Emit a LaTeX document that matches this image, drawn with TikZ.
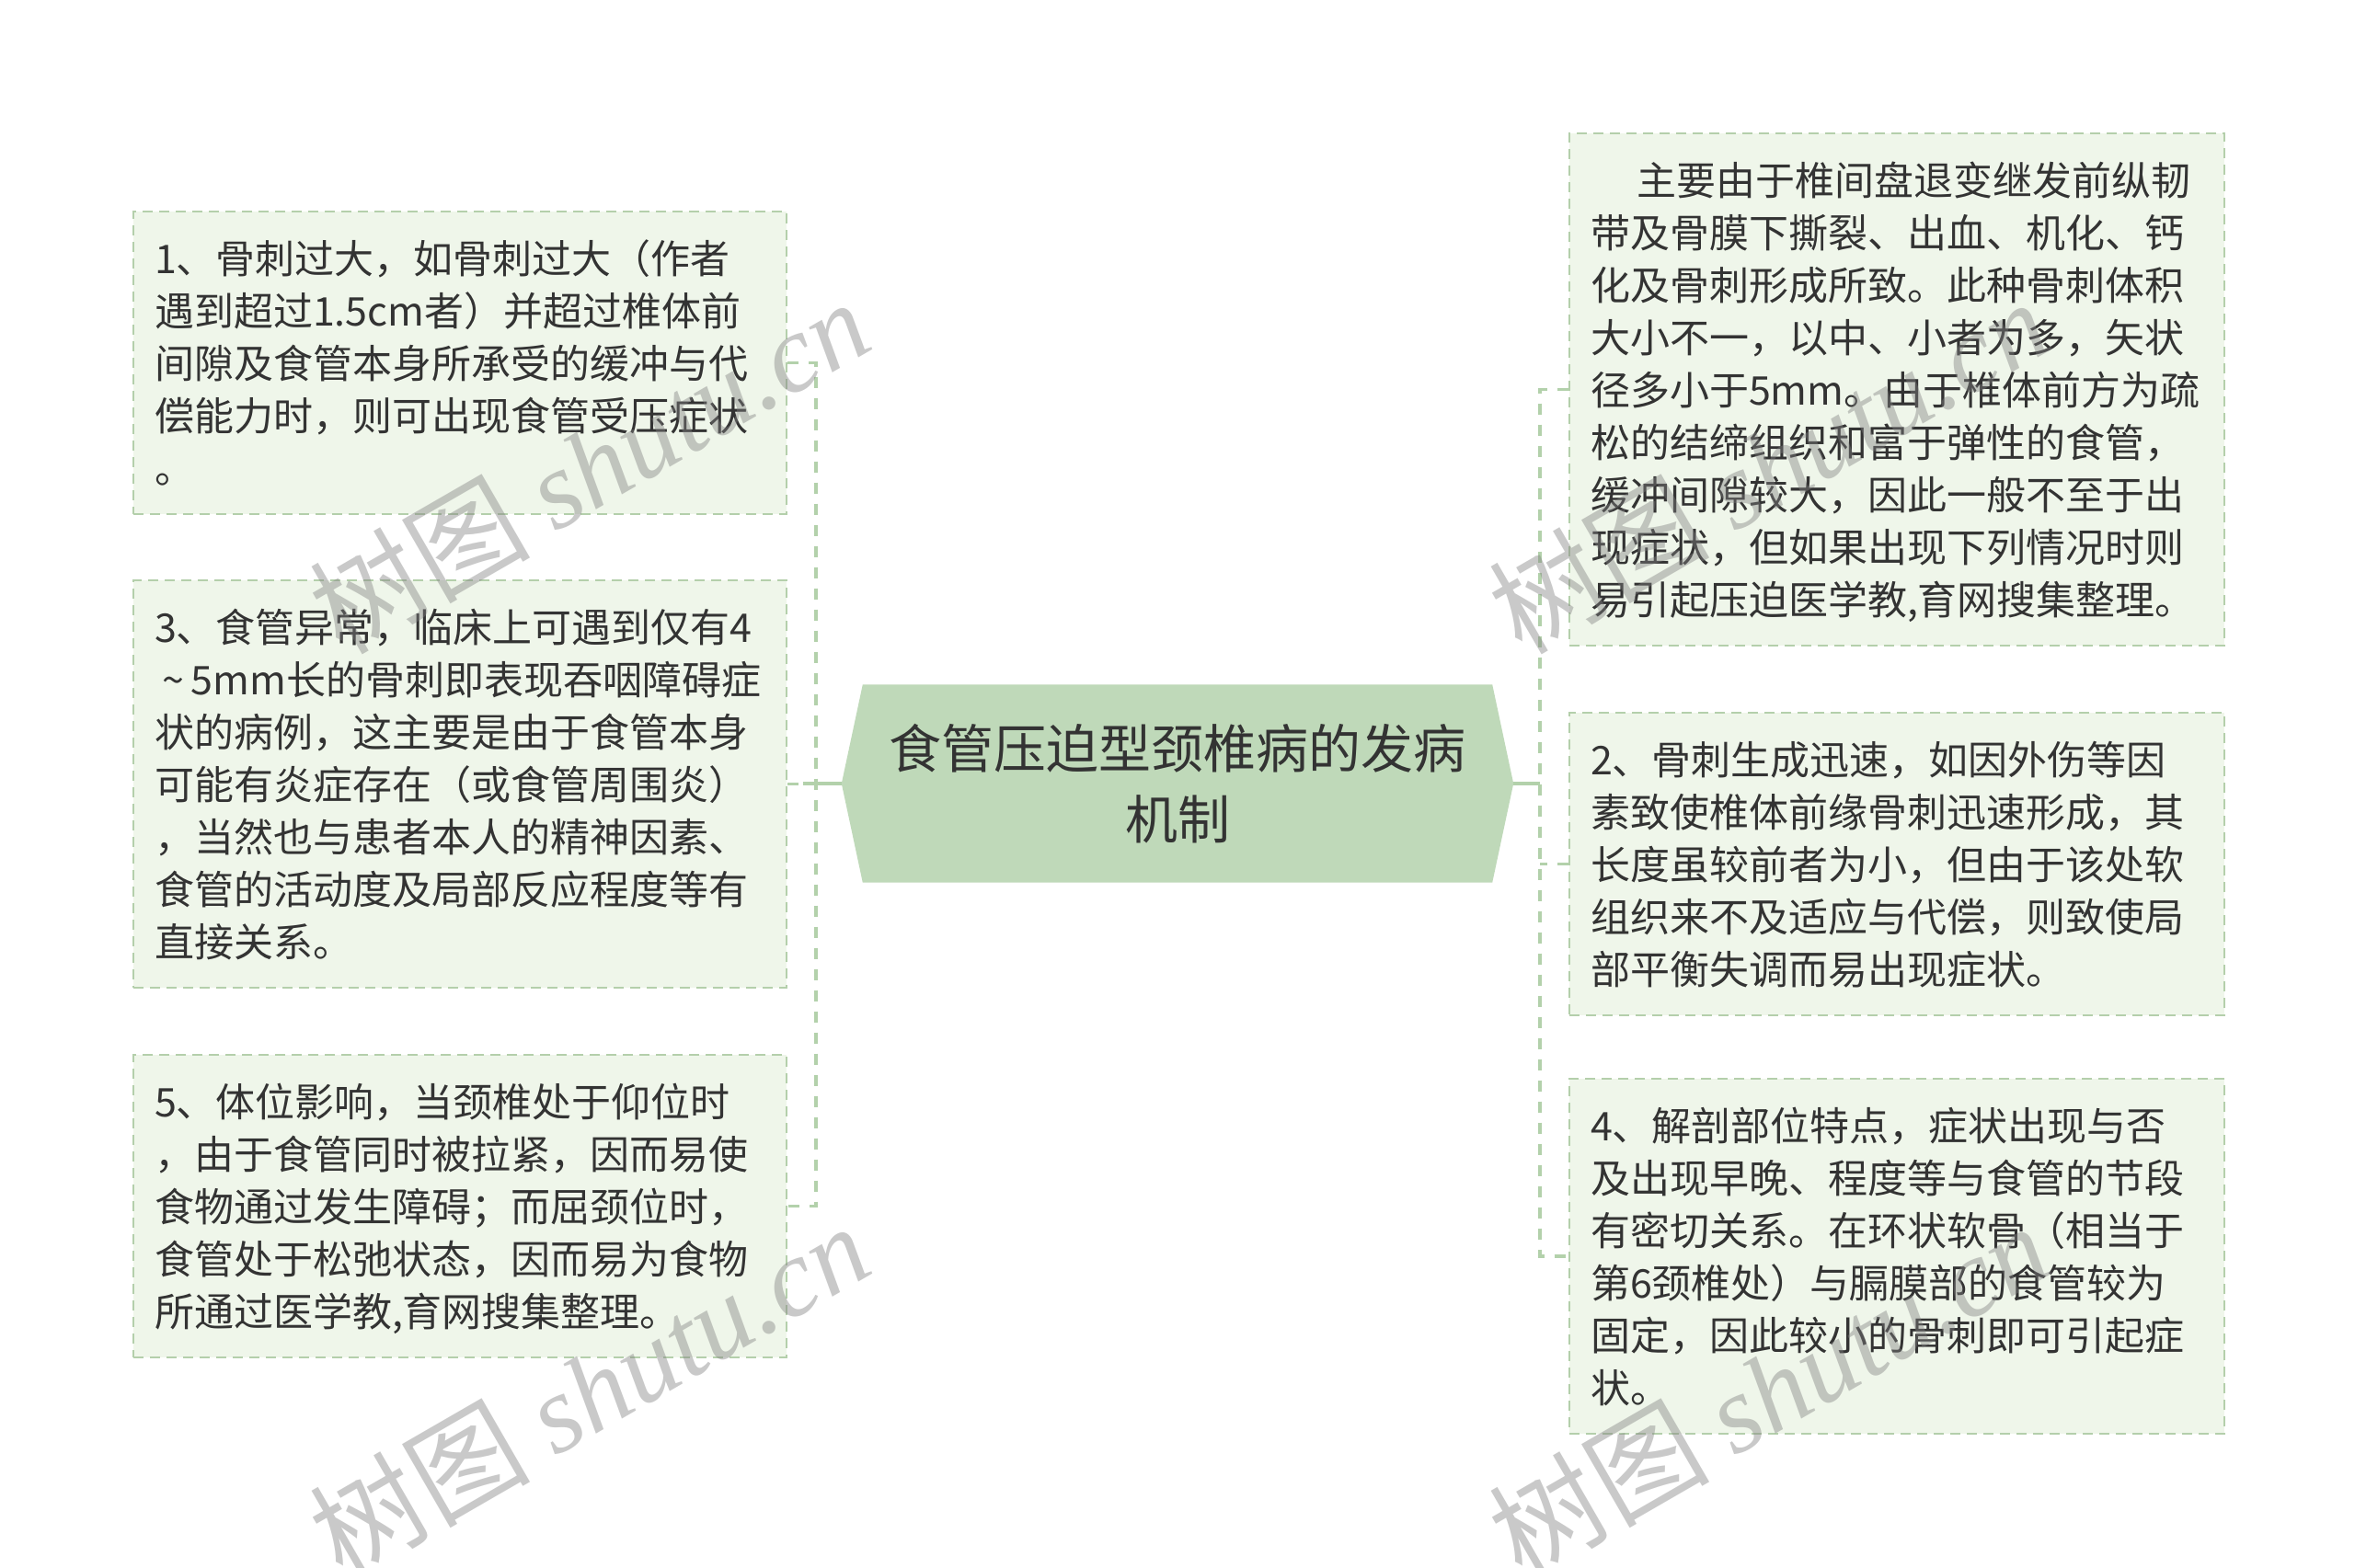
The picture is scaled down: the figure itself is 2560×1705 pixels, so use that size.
\documentclass[tikz,border=0pt]{standalone}
\usepackage{fontspec}
\setmainfont{Noto Sans CJK SC}
\newfontfamily\wmcjk{Noto Sans CJK SC}
\newfontfamily\wmlat{Liberation Serif}
\pgfdeclarelayer{background}
\pgfsetlayers{background,main}
\definecolor{boxfill}{HTML}{EFF6EA}
\definecolor{boxline}{HTML}{B4CFAB}
\definecolor{connline}{HTML}{B3D1AB}
\definecolor{centerfill}{HTML}{BFD9B9}
\definecolor{txt}{HTML}{333333}
\definecolor{wmgray}{HTML}{808080}
\newcommand\zs{\rule[-12pt]{0pt}{57pt}}
\newcommand\cs{\rule[-16.8pt]{0pt}{77pt}}
\begin{document}
\begin{tikzpicture}[x=1pt,y=-1pt,
  leaf/.style={anchor=north west, draw=boxline, line width=2pt,
    dash pattern=on 11pt off 7pt, fill=boxfill, inner xsep=23pt, inner ysep=22pt,
    text width=664pt, align=left, text=txt, font=\fontsize{43}{57}\selectfont,
    execute at begin node=\zs, execute at end node=\zs},
  centernode/.style={align=center, text=txt, font=\fontsize{57}{77}\selectfont,
    minimum width=730pt, minimum height=215pt, inner sep=0pt},
  conn/.style={draw=connline, line width=3.5pt, dash pattern=on 12pt off 11pt},
  joinline/.style={draw=connline, line width=3.5pt},
  wm/.style={rotate=30, text=wmgray, text opacity=0.42, inner sep=0pt,
    font=\fontsize{120}{120}\selectfont}
]
\useasboundingbox (0,0) rectangle (2560,1705);
\begin{pgfonlayer}{background}
\fill[white] (0,0) rectangle (2560,1705);
\end{pgfonlayer}

% central node
\node[centernode] (c) at (1280,852) {\cs 食管压迫型颈椎病的发病\\\cs 机制};

% left boxes
\node[leaf] (L1) at (144,229) {1、骨刺过大，如骨刺过大（作者\\遇到超过1.5cm者）并超过椎体前\\间隙及食管本身所承受的缓冲与代\\偿能力时，则可出现食管受压症状\\。};
\node[leaf] (L3) at (144,630) {3、食管异常，临床上可遇到仅有4\\\makebox[40pt][c]{\char"007E}5mm长的骨刺即表现吞咽障碍症\\状的病例，这主要是由于食管本身\\可能有炎症存在（或食管周围炎）\\，当然也与患者本人的精神因素、\\食管的活动度及局部反应程度等有\\直接关系。};
\node[leaf] (L5) at (144,1146) {5、体位影响，当颈椎处于仰位时\\，由于食管同时被拉紧，因而易使\\食物通过发生障碍；而屈颈位时，\\食管处于松弛状态，因而易为食物\\所通过医学教,育网搜集整理。};

% right boxes
\node[leaf, text width=666pt] (R0) at (1705,144) {\hspace*{50pt}主要由于椎间盘退变继发前纵韧\\带及骨膜下撕裂、出血、机化、钙\\化及骨刺形成所致。此种骨刺体积\\大小不一，以中、小者为多，矢状\\径多小于5mm。由于椎体前方为疏\\松的结缔组织和富于弹性的食管，\\缓冲间隙较大，因此一般不至于出\\现症状，但如果出现下列情况时则\\易引起压迫医学教,育网搜集整理。};
\node[leaf, text width=666pt] (R2) at (1705,774) {2、骨刺生成迅速，如因外伤等因\\素致使椎体前缘骨刺迅速形成，其\\长度虽较前者为小，但由于该处软\\组织来不及适应与代偿，则致使局\\部平衡失调而易出现症状。};
\node[leaf, text width=666pt] (R4) at (1705,1172) {4、解剖部位特点，症状出现与否\\及出现早晚、程度等与食管的节段\\有密切关系。在环状软骨（相当于\\第6颈椎处）与膈膜部的食管较为\\固定，因此较小的骨刺即可引起症\\状。};

\coordinate (ltx) at (887,0);
\coordinate (ljx) at (873,0);
\coordinate (rtx) at (1674,0);

\begin{pgfonlayer}{background}
\fill[centerfill] (c.west) -- ([xshift=23pt]c.north west) -- ([xshift=-23pt]c.north east)
  -- (c.east) -- ([xshift=-23pt]c.south east) -- ([xshift=23pt]c.south west) -- cycle;
% left connectors
\draw[conn] (L1.east) -- (L1.east -| ltx) -- (L5.east -| ltx) -- (L5.east);
\draw[conn] (L3.east) -- (L3.east -| ltx);
\draw[joinline] (c.west) -- (c.west -| ljx);
% right connectors
\draw[conn] (R0.west) -- (R0.west -| rtx) -- (R4.west -| rtx) -- (R4.west);
\draw[conn] (R2.west) -- (R2.west -| rtx);
\draw[joinline] (c.east) -- (c.east -| rtx);
\end{pgfonlayer}

% watermarks
\node[wm] (w1) at (640,506) {{\wmcjk 树图} {\wmlat\itshape shutu.cn}};
\node[wm] (w2) at (640,1511) {{\wmcjk 树图} {\wmlat\itshape shutu.cn}};
\node[wm] (w3) at (1922,506) {{\wmcjk 树图} {\wmlat\itshape shutu.cn}};
\node[wm] (w4) at (1922,1511) {{\wmcjk 树图} {\wmlat\itshape shutu.cn}};
\end{tikzpicture}
\end{document}
